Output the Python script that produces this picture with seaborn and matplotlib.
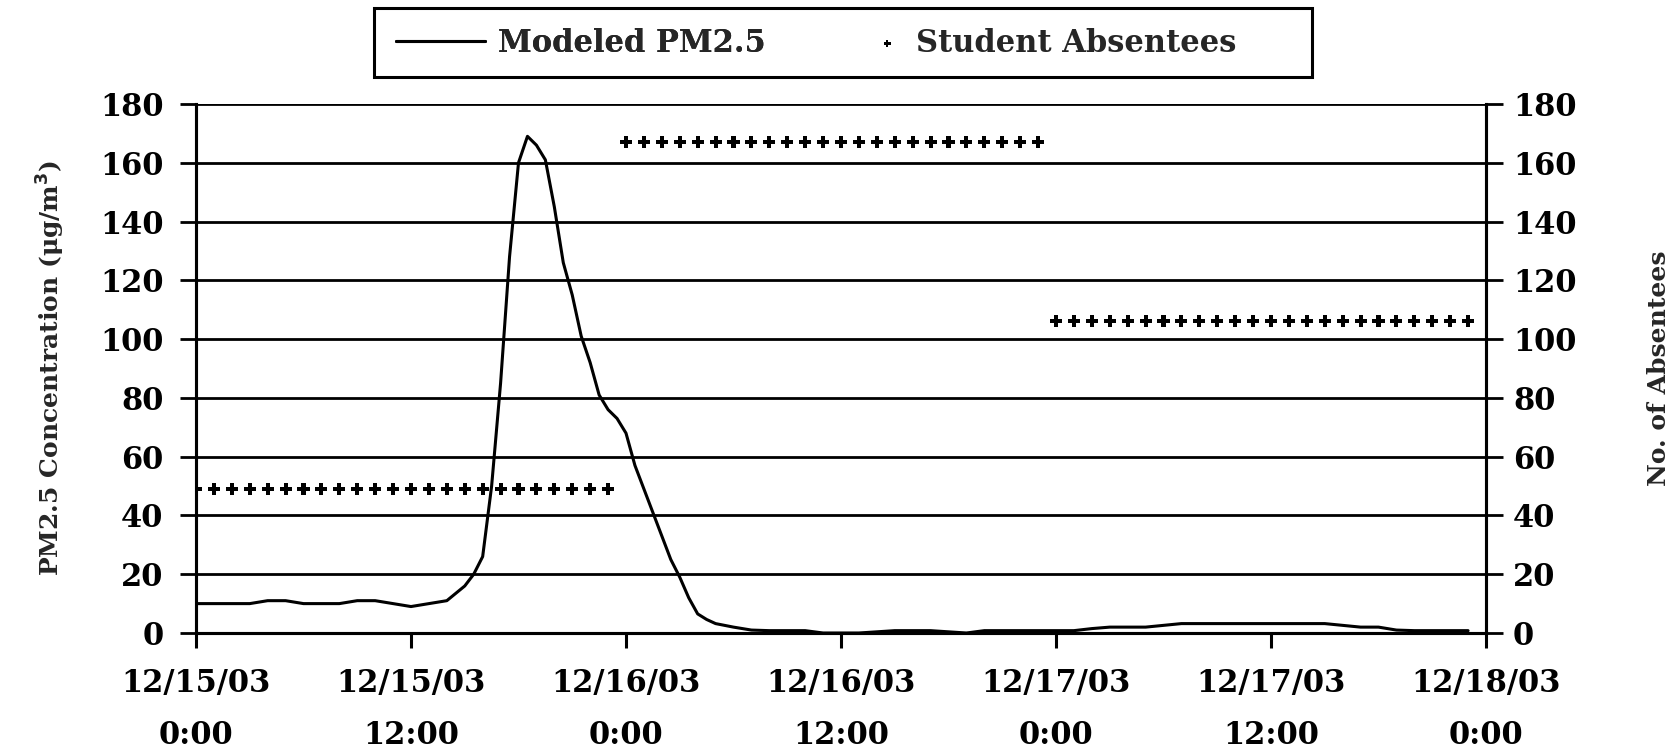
import matplotlib
matplotlib.use("Agg")
import matplotlib.pyplot as plt
import matplotlib.patches as mpatches
import seaborn as sns
import pandas as pd

# ---- data ----
pm_hours = [0, 1, 2, 3, 4, 5, 6, 7, 8, 9, 10, 11, 12, 13, 14,
            14.5, 15, 15.5, 16, 16.5, 17, 17.5, 18, 18.5, 19, 19.5, 20, 20.5,
            21, 21.5, 22, 22.5, 23, 23.5, 24, 24.5, 25, 25.5, 26, 26.5, 27,
            27.5, 28, 28.5, 29,
            30, 31, 32, 33, 34, 35, 36, 37, 38, 39, 40, 41, 42, 43, 44, 45,
            46, 47, 48, 49, 50, 51, 52, 53, 54, 55, 56, 57, 58, 59, 60, 61,
            62, 63, 64, 65, 66, 67, 68, 69, 70, 71]
pm_values = [10, 10, 10, 10, 11, 11, 10, 10, 10, 11, 11, 10, 9, 10, 11,
             13.5, 16, 20, 26, 50, 85, 128, 160, 169, 166, 161, 145, 126,
             115, 101, 92, 81, 76, 73, 68, 57, 49, 41, 33, 25, 19,
             12, 6.5, 4.6, 3.2,
             2, 1, 0.8, 0.8, 0.8, 0, 0, 0, 0.4, 0.8, 0.8, 0.8, 0.4, 0, 0.8, 0.8,
             0.8, 0.8, 0.8, 0.8, 1.5, 2, 2, 2, 2.6, 3.2, 3.2, 3.2, 3.2, 3.2, 3.2, 3.2,
             3.2, 3.2, 2.6, 2, 2, 1, 0.8, 0.8, 0.8, 0.8]

abs_hours = list(range(0, 72))
abs_values = [49] * 24 + [167] * 24 + [106] * 24

tick_hours = [0, 12, 24, 36, 48, 60, 72]
tick_labels = ["12/15/03\n0:00", "12/15/03\n12:00", "12/16/03\n0:00",
               "12/16/03\n12:00", "12/17/03\n0:00", "12/17/03\n12:00",
               "12/18/03\n0:00"]
y_ticks = [0, 20, 40, 60, 80, 100, 120, 140, 160, 180]

pm_df = pd.DataFrame({"hour": pm_hours, "pm": pm_values})
abs_df = pd.DataFrame({"hour": abs_hours, "absentees": abs_values})

# ---- style ----
sns.set_style("ticks")
plt.rcParams["font.family"] = ["DejaVu Serif"]
plt.rcParams["font.weight"] = "bold"
plt.rcParams["axes.labelweight"] = "bold"

W, H = 1679, 750
fig = plt.figure(figsize=(W / 100, H / 100), dpi=100)
ax = fig.add_axes([196 / W, 1 - 633 / H, 1290 / W, 529 / H])
ax2 = ax.twinx()

for y in y_ticks:
    ax.axhline(y, color="black", lw=2.0, zorder=1)

sns.lineplot(data=pm_df, x="hour", y="pm", ax=ax, color="black", lw=2.2,
             label="Modeled PM2.5", legend=False, zorder=3)
sns.scatterplot(data=abs_df, x="hour", y="absentees", ax=ax2, color="black",
                marker="P", s=75, edgecolor="none", label="Student Absentees",
                legend=False, zorder=4)

ax.set_xlim(0, 72)
ax.set_ylim(0, 180)
ax2.set_ylim(0, 180)
ax.set_xticks(tick_hours)
ax.set_xticklabels(tick_labels, linespacing=1.9)
ax.set_yticks(y_ticks)
ax2.set_yticks(y_ticks)

for a in (ax, ax2):
    for s in a.spines.values():
        s.set_color("black")
        s.set_linewidth(2.2)
    a.spines["top"].set_visible(False)

ax.tick_params(axis="x", direction="out", length=11, width=2.2, pad=14,
               labelsize=22, colors="black")
ax.tick_params(axis="y", direction="out", length=11.5, width=2.0, pad=12,
               labelsize=22, colors="black")
ax2.tick_params(axis="y", direction="out", length=12.5, width=2.0, pad=7,
                labelsize=22, colors="black")

ax.set_xlabel("")
ax.set_ylabel("PM2.5 Concentration (μg/m$^{\\mathbf{3}}$)", fontsize=18,
              fontweight="bold")
ax2.set_ylabel("No. of Absentees", fontsize=18, fontweight="bold", rotation=90)
for a, xc in ((ax, (51 - 196) / 1290), (ax2, (1659 - 196) / 1290)):
    lab = a.yaxis.label
    lab.set_rotation_mode("default")
    lab.set_ha("center")
    lab.set_va("center")
    a.yaxis.set_label_coords(xc, 0.5)

# legend: two frameless entries, frame drawn as one figure rectangle
h1, l1 = ax.get_legend_handles_labels()
h2, l2 = ax2.get_legend_handles_labels()
prop = {"size": 22, "weight": "bold"}
leg1 = fig.legend(h1, l1, loc="center left", bbox_to_anchor=(396 / W, 1 - 43 / H),
                  frameon=False, prop=prop, handlelength=2.9, handletextpad=0.45,
                  borderpad=0, borderaxespad=0)
fig.add_artist(leg1)
leg2 = fig.legend(h2, l2, loc="center left", bbox_to_anchor=(872 / W, 1 - 43 / H),
                  frameon=False, prop=prop, handlelength=1.0, handletextpad=0.45,
                  borderpad=0, borderaxespad=0, markerscale=0.6)
fig.patches.append(mpatches.Rectangle((374 / W, 1 - 77 / H), 938 / W, 69.5 / H,
                                      transform=fig.transFigure, fill=False,
                                      edgecolor="black", lw=2.2))

fig.savefig("out.png", dpi=100, facecolor="white")
